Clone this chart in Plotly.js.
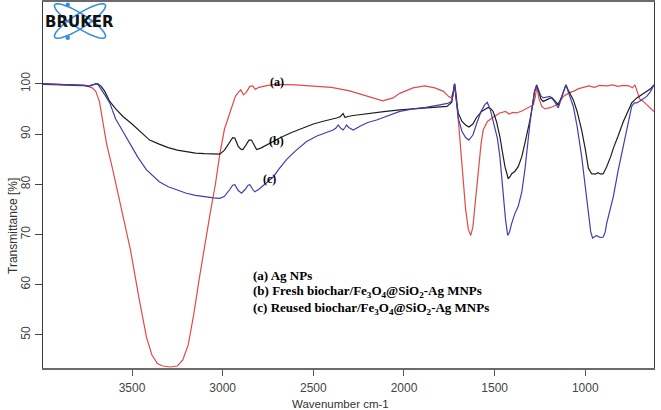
<!DOCTYPE html>
<html>
<head>
<meta charset="utf-8">
<script src="https://cdn.plot.ly/plotly-3.0.1.min.js"></script>
<style>html,body{margin:0;padding:0;background:#fff;}#chart{width:661px;height:410px;}</style>
</head>
<body>
<div id="chart"></div>
<script>
// ---- Data (wavenumber cm-1, transmittance %) ----
const wnA = [3991,3900,3850,3800,3750,3720,3700,3680,3660,3640,3607,3560,3509,3460,3420,3390,3360,3330,3290,3250,3220,3190,3160,3130,3103,3070,3040,3016,2990,2960,2944,2930,2916,2900,2885,2870,2850,2834,2820,2800,2750,2700,2600,2500,2400,2300,2200,2117,2060,2023,1950,1885,1830,1782,1755,1740,1728,1721,1712,1700,1680,1660,1645,1632,1620,1605,1590,1575,1563,1540,1510,1471,1440,1420,1400,1379,1350,1320,1287,1275,1268,1255,1240,1222,1190,1160,1140,1121,1090,1060,1040,1011,980,950,920,880,850,820,790,760,740,726,712,700,680,660,640,621];
const tA  = [99.9,99.8,99.7,99.7,99.6,99.2,98.5,96.5,92,88,83,75,67,57,49.5,46,44.3,43.8,43.6,43.8,45,48,54,61,67,74,80,86,91,94.5,96.2,97.5,98.2,98.8,97.8,98.3,99.5,99.6,98.9,99.3,99.7,99.9,99.8,99.6,99.3,98.6,97.5,96.6,97.2,98.1,99.2,99.6,99.2,98.5,97.5,97.2,98.5,100,98,93,84,75,71,69.8,71.5,77,83,88,90.8,92.5,93.3,94.2,94.5,94,94.3,94.2,94.6,95.2,95.8,97.5,99.5,97,95.5,95,95.3,95.8,96.5,97.5,98.2,98.6,99,99.3,99.6,99.3,99.7,99.6,99.8,99.5,99.7,99.6,99.2,99.8,98,97,96.5,95.8,95,94.5];

const wnB = [3991,3900,3850,3800,3760,3743,3720,3700,3688,3670,3650,3623,3590,3550,3500,3450,3403,3350,3300,3250,3200,3150,3100,3050,3016,2990,2960,2945,2933,2915,2900,2889,2870,2855,2841,2825,2813,2790,2760,2722,2680,2620,2556,2500,2440,2400,2372,2350,2336,2325,2310,2280,2240,2188,2100,2023,1950,1850,1800,1763,1737,1728,1721,1712,1701,1680,1660,1642,1620,1600,1572,1550,1535,1520,1508,1490,1471,1455,1443,1425,1415,1406,1390,1370,1350,1333,1315,1305,1290,1280,1268,1258,1245,1232,1210,1185,1165,1149,1130,1115,1107,1095,1080,1066,1045,1020,1000,983,965,945,930,915,901,882,860,845,820,790,765,744,716,690,661,640,621];
const tB  = [100,99.9,99.8,99.7,99.7,99.5,99.8,100,100,99.5,98.5,96.5,95,93.5,92,90.3,88.8,88,87.3,86.8,86.5,86.2,86.1,86,86,86.8,88.4,89.3,89.2,87.6,87,86.9,87.9,88.8,88.8,87.6,86.9,87.2,87.8,88.5,89.3,90.3,91.2,92,92.6,92.9,93.2,93.5,94.1,93.3,93.5,93.7,93.9,94.2,94.5,94.8,95,95.2,95.4,95.5,96.3,98,100,97,94.2,92.5,91.8,91.4,92,93.3,94.5,95,95.3,95,94.5,92.5,89.5,86,83.5,81.1,81.5,82.1,82.5,83.5,85.5,88.2,91,92.8,96,98.5,99.8,98.5,97,96.5,96.9,97.3,96.5,95.8,97.5,99.3,99.8,98.8,97.8,96.8,94.5,90.8,87,83.2,82.1,82,82.3,82,82.1,83.5,85.5,87.2,89.5,92.5,94.5,96.2,97.2,97.8,98.5,99,99.8];

const wnC = [3991,3900,3850,3800,3760,3743,3720,3700,3688,3670,3650,3623,3590,3550,3513,3470,3421,3380,3350,3300,3250,3200,3150,3100,3050,3016,2990,2960,2945,2933,2915,2896,2875,2860,2850,2835,2823,2800,2780,2758,2720,2690,2648,2600,2537,2480,2430,2391,2375,2363,2350,2336,2325,2317,2305,2280,2240,2200,2151,2100,2023,1950,1880,1802,1760,1737,1728,1721,1712,1701,1680,1660,1642,1620,1600,1575,1555,1541,1525,1510,1498,1485,1471,1460,1453,1440,1428,1418,1406,1390,1370,1350,1333,1318,1305,1290,1280,1268,1258,1245,1232,1210,1195,1170,1149,1130,1115,1107,1095,1080,1066,1045,1020,1000,983,970,960,948,938,925,912,901,890,882,865,845,820,790,765,744,730,716,690,661,640,621];
const tC  = [100,99.9,99.8,99.7,99.7,99.5,99.8,100,99.9,99,97.8,96.2,93,90.5,88.2,85.5,82.9,81.5,80.5,79.5,78.8,78.2,77.8,77.5,77.3,77.2,77.6,79,79.8,79.9,78.8,78.2,79,79.8,79.9,79,78.5,79,79.6,80.2,81.5,83,84.9,86.6,88.5,89.6,90.3,90.8,91.2,91.8,91.2,90.8,91.3,91.8,91.3,90.8,91.6,92.3,92.8,93.5,94.5,95,95.3,95.8,96.1,96.5,98,100,96.5,93.2,90.5,89.3,88.8,89.8,92,94.5,95.8,96.3,95,93,91.5,89.2,85.5,80.5,77.6,73,69.8,70.5,72.2,74,75.6,78.5,82.9,88,92.2,96,98.5,99.8,98.7,97.6,97.2,97.3,97.5,96.5,95.2,97.3,99.3,99.8,98.5,96.8,95.5,91.5,85.5,79.5,73.6,70.5,69.3,69.5,69.8,69.5,69.4,69.5,70.5,72.2,74.5,77.6,82.5,87.5,92,95.5,96.2,96.2,96.8,97.5,98.5,99.8];

const xTicks = [3500,3000,2500,2000,1500,1000];
const yTicks = [50,60,70,80,90,100];
const curveTags = ['(a)','(b)','(c)'];
const legendLines = [
  '(a) Ag NPs',
  '(b) Fresh biochar/Fe<sub>3</sub>O<sub>4</sub>@SiO<sub>2</sub>-Ag MNPs',
  '(c) Reused biochar/Fe<sub>3</sub>O<sub>4</sub>@SiO<sub>2</sub>-Ag MNPs'
];
const logoText = 'BRUKER';

// ---- Layout geometry ----
const W = 661, H = 410;
const M = {l: 43, r: 7, t: 2, b: 42};
const PW = W - M.l - M.r, PH = H - M.t - M.b;
const px2x = p => (p - M.l) / PW;
const px2y = p => (H - M.b - p) / PH;

const traces = [
  {x: wnA, y: tA, mode: 'lines', line: {color: '#e04a4a', width: 1.2}, hoverinfo: 'skip'},
  {x: wnB, y: tB, mode: 'lines', line: {color: '#1e1e1e', width: 1.2}, hoverinfo: 'skip'},
  {x: wnC, y: tC, mode: 'lines', line: {color: '#3f3fae', width: 1.2}, hoverinfo: 'skip'}
];

const serif = 'Liberation Serif, Times New Roman, serif';
const sans = 'Liberation Sans, Arial, sans-serif';

const annotations = [];
// curve tags
const tagPos = [[2703, 100.3], [2703, 88.7], [2740, 81.0]];
curveTags.forEach((t, i) => annotations.push({
  x: tagPos[i][0], y: tagPos[i][1], xref: 'x', yref: 'y', text: t, showarrow: false,
  xanchor: 'center', yanchor: 'middle',
  font: {family: serif, size: 12, color: '#000', weight: 'bold'}
}));
// legend block
const legY = [61.75, 58.55, 55.35];
legendLines.forEach((t, i) => annotations.push({
  x: 2845, y: legY[i], xref: 'x', yref: 'y', xanchor: 'left', yanchor: 'middle',
  text: t, showarrow: false, font: {family: serif, size: 13, color: '#000', weight: 'bold'}
}));
// axis titles
annotations.push({x: px2x(13), y: px2y(226), xref: 'paper', yref: 'paper', text: 'Transmittance [%]',
  xanchor: 'center', yanchor: 'middle',
  textangle: -90, showarrow: false, font: {family: sans, size: 12, color: '#333'}});
annotations.push({x: px2x(340), y: px2y(404), xref: 'paper', yref: 'paper', text: 'Wavenumber cm-1',
  xanchor: 'center', yanchor: 'middle',
  showarrow: false, font: {family: sans, size: 11.5, color: '#333'}});
// logo text
annotations.push({x: px2x(79), y: px2y(21.5), xref: 'paper', yref: 'paper', text: logoText,
  xanchor: 'center', yanchor: 'middle',
  showarrow: false, font: {family: 'DejaVu Sans, sans-serif', size: 15, color: '#111', weight: 'bold'}});

// logo orbits (decoration)
function ellipsePath(cx, cy, a, b, deg) {
  const th = deg * Math.PI / 180; let d = '';
  for (let k = 0; k <= 48; k++) {
    const t = 2 * Math.PI * k / 48;
    const ex = a * Math.cos(t), ey = b * Math.sin(t);
    const X = cx + ex * Math.cos(th) - ey * Math.sin(th);
    const Y = cy + ex * Math.sin(th) + ey * Math.cos(th);
    d += (k ? ' L ' : 'M ') + px2x(X).toFixed(5) + ',' + px2y(Y).toFixed(5);
  }
  return d + ' Z';
}
const logoBlue = '#3a8ee0';
const shapes = [
  {type: 'path', xref: 'paper', yref: 'paper', path: ellipsePath(80, 21, 30, 7, 32.6), line: {color: logoBlue, width: 1.6}, layer: 'below'},
  {type: 'path', xref: 'paper', yref: 'paper', path: ellipsePath(80, 21, 30, 7, -32.6), line: {color: logoBlue, width: 1.6}, layer: 'below'},
  {type: 'circle', xref: 'paper', yref: 'paper', x0: px2x(65.5), x1: px2x(70), y0: px2y(2.5), y1: px2y(7), fillcolor: logoBlue, line: {width: 0}},
  {type: 'circle', xref: 'paper', yref: 'paper', x0: px2x(65.5), x1: px2x(70), y0: px2y(35.5), y1: px2y(40), fillcolor: logoBlue, line: {width: 0}}
];

const layout = {
  width: W, height: H, margin: M, showlegend: false,
  paper_bgcolor: '#fff', plot_bgcolor: '#fff',
  xaxis: {range: [3991, 621], autorange: false, tickvals: xTicks, ticktext: xTicks.map(String),
    ticks: 'outside', ticklen: 6, tickcolor: '#555', tickwidth: 1, showgrid: false, zeroline: false,
    showline: true, linecolor: '#6a6a6a', linewidth: 2, mirror: true, ticklabelstandoff: 2,
    tickfont: {family: sans, size: 12, color: '#444'}},
  yaxis: {range: [43.4, 116.3], autorange: false, tickvals: yTicks, ticktext: yTicks.map(String),
    ticks: 'outside', ticklen: 7, tickcolor: '#444', tickwidth: 1, showgrid: false, zeroline: false,
    showline: true, linecolor: '#3a3a3a', linewidth: 1.3, mirror: true, tickangle: -90,
    tickfont: {family: sans, size: 12, color: '#444'}},
  annotations: annotations, shapes: shapes
};

Plotly.newPlot('chart', traces, layout, {staticPlot: true, displayModeBar: false});
</script>
</body>
</html>
